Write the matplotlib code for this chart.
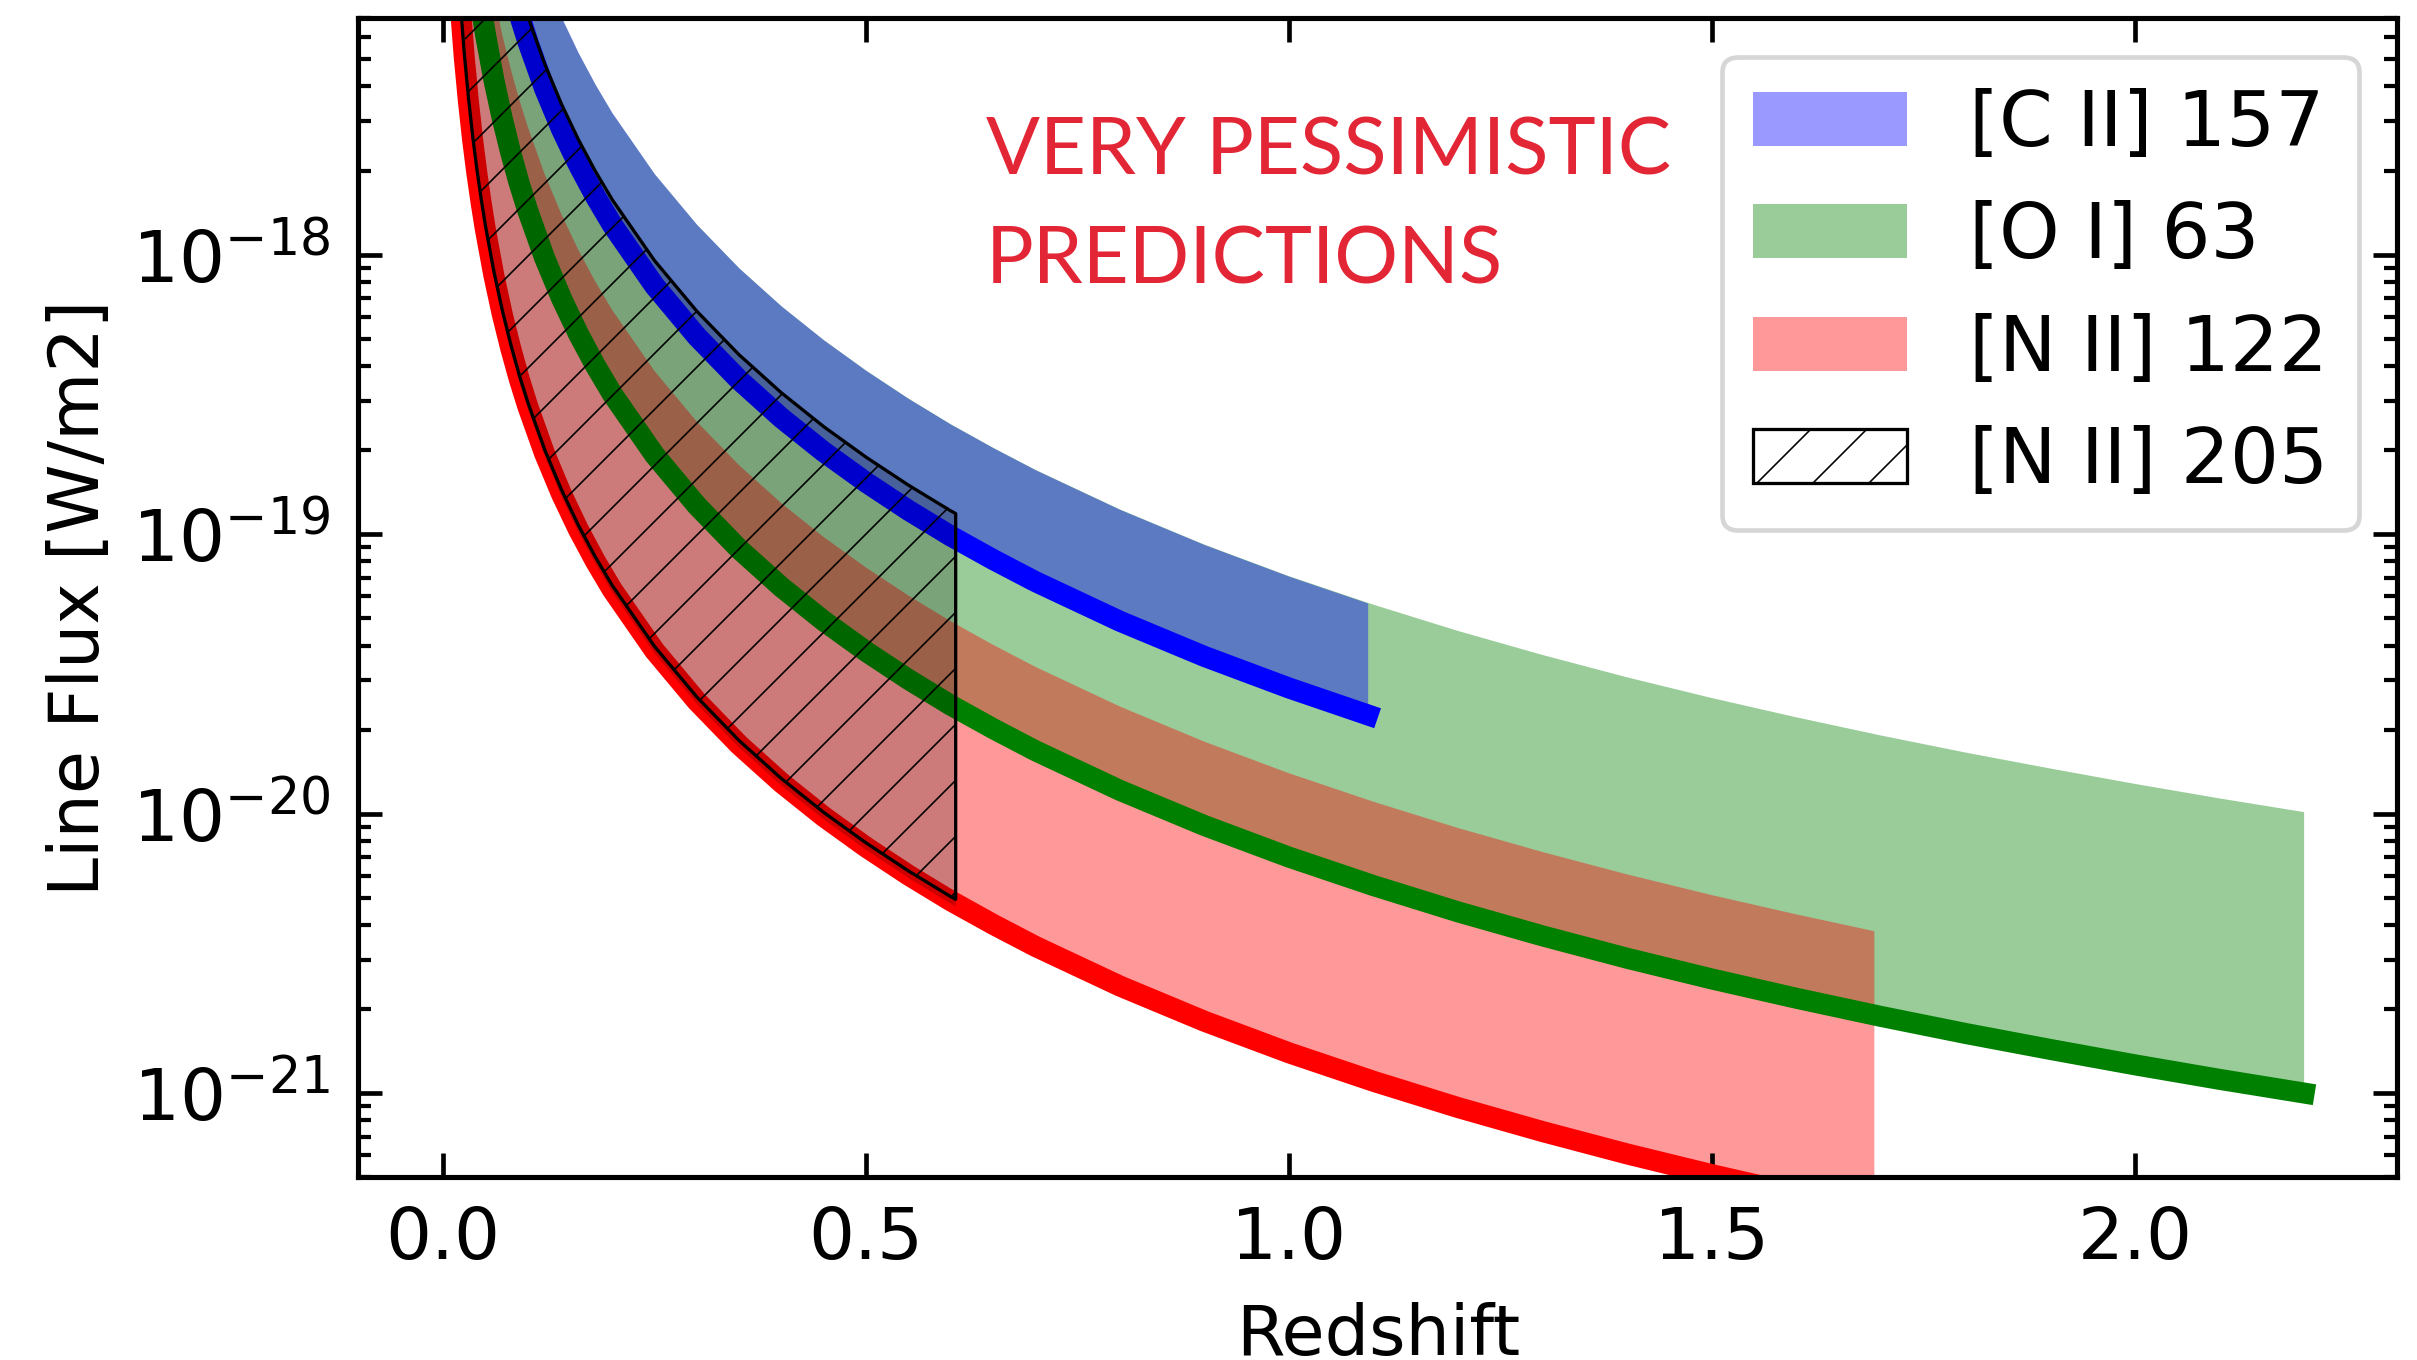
import matplotlib
matplotlib.use("Agg")
import matplotlib.pyplot as plt
import numpy as np

# log10 of line flux [W/m2] against redshift
cii_z = [0.08, 0.09, 0.10, 0.12, 0.14, 0.16, 0.18, 0.20, 0.25, 0.30, 0.35, 0.40,
         0.45, 0.50, 0.55, 0.60, 0.65, 0.70, 0.80, 0.90, 1.00, 1.093]
cii_low_log = [-17.030, -17.139, -17.236, -17.406, -17.551, -17.678, -17.791, -17.893,
               -18.111, -18.292, -18.448, -18.584, -18.705, -18.814, -18.914, -19.006,
               -19.090, -19.169, -19.311, -19.437, -19.550, -19.646]
cii_high_log = [-16.630, -16.739, -16.836, -17.006, -17.151, -17.278, -17.391, -17.493,
                -17.711, -17.892, -18.048, -18.184, -18.305, -18.414, -18.514, -18.606,
                -18.690, -18.769, -18.911, -19.037, -19.150, -19.246]

oi_z = [0.04, 0.045, 0.05, 0.06, 0.07, 0.08, 0.09, 0.10, 0.12, 0.14, 0.16, 0.18, 0.20,
        0.25, 0.30, 0.35, 0.40, 0.45, 0.50, 0.55, 0.60, 0.65, 0.70, 0.80, 0.90, 1.00,
        1.10, 1.20, 1.30, 1.40, 1.50, 1.60, 1.70, 1.80, 1.90, 2.00, 2.10, 2.20]
oi_low_log = [-17.009, -17.114, -17.209, -17.373, -17.513, -17.635, -17.744, -17.841,
              -18.011, -18.156, -18.283, -18.396, -18.498, -18.716, -18.897, -19.053,
              -19.189, -19.310, -19.419, -19.519, -19.611, -19.695, -19.774, -19.916,
              -20.042, -20.155, -20.257, -20.351, -20.437, -20.517, -20.591, -20.660,
              -20.725, -20.786, -20.843, -20.898, -20.950, -20.999]
oi_high_log = [-16.004, -16.109, -16.204, -16.368, -16.508, -16.630, -16.739, -16.836,
               -17.006, -17.151, -17.278, -17.391, -17.493, -17.711, -17.892, -18.048,
               -18.184, -18.305, -18.414, -18.514, -18.606, -18.690, -18.769, -18.911,
               -19.037, -19.150, -19.252, -19.346, -19.432, -19.512, -19.586, -19.655,
               -19.720, -19.781, -19.838, -19.893, -19.945, -19.994]

nii122_z = [0.015, 0.02, 0.025, 0.03, 0.035, 0.04, 0.045, 0.05, 0.06, 0.07, 0.08, 0.09,
            0.10, 0.12, 0.14, 0.16, 0.18, 0.20, 0.25, 0.30, 0.35, 0.40, 0.45, 0.50,
            0.55, 0.60, 0.65, 0.70, 0.80, 0.90, 1.00, 1.10, 1.20, 1.30, 1.40, 1.50,
            1.60, 1.692]
nii122_low_log = [-16.841, -17.094, -17.291, -17.452, -17.590, -17.709, -17.814, -17.909,
                  -18.073, -18.213, -18.335, -18.444, -18.541, -18.711, -18.856, -18.983,
                  -19.096, -19.198, -19.416, -19.597, -19.753, -19.889, -20.010, -20.119,
                  -20.219, -20.311, -20.395, -20.474, -20.616, -20.742, -20.855, -20.957,
                  -21.051, -21.137, -21.217, -21.291, -21.360, -21.420]
nii122_high_log = [-15.841, -16.094, -16.291, -16.452, -16.590, -16.709, -16.814, -16.909,
                   -17.073, -17.213, -17.335, -17.444, -17.541, -17.711, -17.856, -17.983,
                   -18.096, -18.198, -18.416, -18.597, -18.753, -18.889, -19.010, -19.119,
                   -19.219, -19.311, -19.395, -19.474, -19.616, -19.742, -19.855, -19.957,
                   -20.051, -20.137, -20.217, -20.291, -20.360, -20.420]

nii205_z = [0.015, 0.02, 0.025, 0.03, 0.035, 0.04, 0.045, 0.05, 0.06, 0.07, 0.08, 0.09,
            0.10, 0.12, 0.14, 0.16, 0.18, 0.20, 0.25, 0.30, 0.35, 0.40, 0.45, 0.50,
            0.55, 0.60, 0.606]
nii205_low_log = [-16.826, -17.079, -17.276, -17.437, -17.575, -17.694, -17.799, -17.894,
                  -18.058, -18.198, -18.320, -18.429, -18.526, -18.696, -18.841, -18.968,
                  -19.081, -19.183, -19.401, -19.582, -19.738, -19.874, -19.995, -20.104,
                  -20.204, -20.296, -20.306]
nii205_high_log = [-15.446, -15.699, -15.896, -16.057, -16.195, -16.314, -16.419, -16.514,
                   -16.678, -16.818, -16.940, -17.049, -17.146, -17.316, -17.461, -17.588,
                   -17.701, -17.803, -18.021, -18.202, -18.358, -18.494, -18.615, -18.724,
                   -18.824, -18.916, -18.926]
# grey shading under the hatch starts a little lower than the hatch outline
nii205_shade_log = [-16.851, -17.104, -17.301, -17.462, -17.600, -17.719, -17.824, -17.919,
                    -18.083, -18.223, -18.345, -18.454, -18.551, -18.721, -18.866, -18.993,
                    -19.106, -19.208, -19.426, -19.607, -19.763, -19.899, -20.020, -20.129,
                    -20.229, -20.321, -20.331]

legend_labels = ["[C II] 157", "[O I] 63", "[N II] 122", "[N II] 205"]
note_lines = ["VERY PESSIMISTIC", "PREDICTIONS"]
x_ticks = [0.0, 0.5, 1.0, 1.5, 2.0]


def flux(values):
    return 10.0 ** np.asarray(values)


DPI = 336
plt.rcParams.update({
    "font.family": "DejaVu Sans",
    "axes.linewidth": 1.1,
    "hatch.linewidth": 0.35,
})

fig, ax = plt.subplots(figsize=(2417 / DPI, 1360 / DPI), dpi=DPI)
fig.subplots_adjust(left=0.1483, right=0.9918, bottom=0.1342, top=0.9864)

oi_fill = ax.fill_between(oi_z, flux(oi_low_log), flux(oi_high_log),
                          color="green", alpha=0.4, lw=0, zorder=1)
cii_fill = ax.fill_between(cii_z, flux(cii_low_log), flux(cii_high_log),
                           color="blue", alpha=0.4, lw=0, zorder=1.1)
nii_fill = ax.fill_between(nii122_z, flux(nii122_low_log), flux(nii122_high_log),
                           color="red", alpha=0.4, lw=0, zorder=1.2)

ax.plot(nii122_z, flux(nii122_low_log), color="red", lw=4.5, zorder=2)
ax.plot(oi_z, flux(oi_low_log), color="green", lw=4.5, zorder=2)
ax.plot(cii_z, flux(cii_low_log), color="blue", lw=4.5, zorder=2)

ax.fill_between(nii205_z, flux(nii205_shade_log), flux(nii205_high_log),
                color="black", alpha=0.2, lw=0, zorder=3)
nii205_hatch = ax.fill_between(nii205_z, flux(nii205_low_log), flux(nii205_high_log),
                               facecolor="none", edgecolor="black", hatch="//",
                               lw=0.7, zorder=4)

ax.set_yscale("log")
ax.set_xlim(-0.1, 2.31)
ax.set_ylim(5e-22, 7e-18)
ax.set_xticks(x_ticks)

ax.tick_params(which="both", direction="in", top=True, right=True,
               labelsize=15.5, pad=6)
ax.tick_params(which="major", length=5.2, width=1.0)
ax.tick_params(which="minor", length=2.8, width=0.9)

ax.set_xlabel("Redshift", fontsize=15, labelpad=6)
ax.set_ylabel("Line Flux [W/m2]", fontsize=15)

ax.text(0.3078, 0.8656, note_lines[0], transform=ax.transAxes, family="Lato",
        fontsize=17.1, color="#E32636", va="baseline", ha="left")
ax.text(0.3078, 0.7715, note_lines[1], transform=ax.transAxes, family="Lato",
        fontsize=17.1, color="#E32636", va="baseline", ha="left")

ax.legend([cii_fill, oi_fill, nii_fill, nii205_hatch], legend_labels,
          loc="upper right", fontsize=16.5)

fig.savefig("out.png", dpi=DPI)
